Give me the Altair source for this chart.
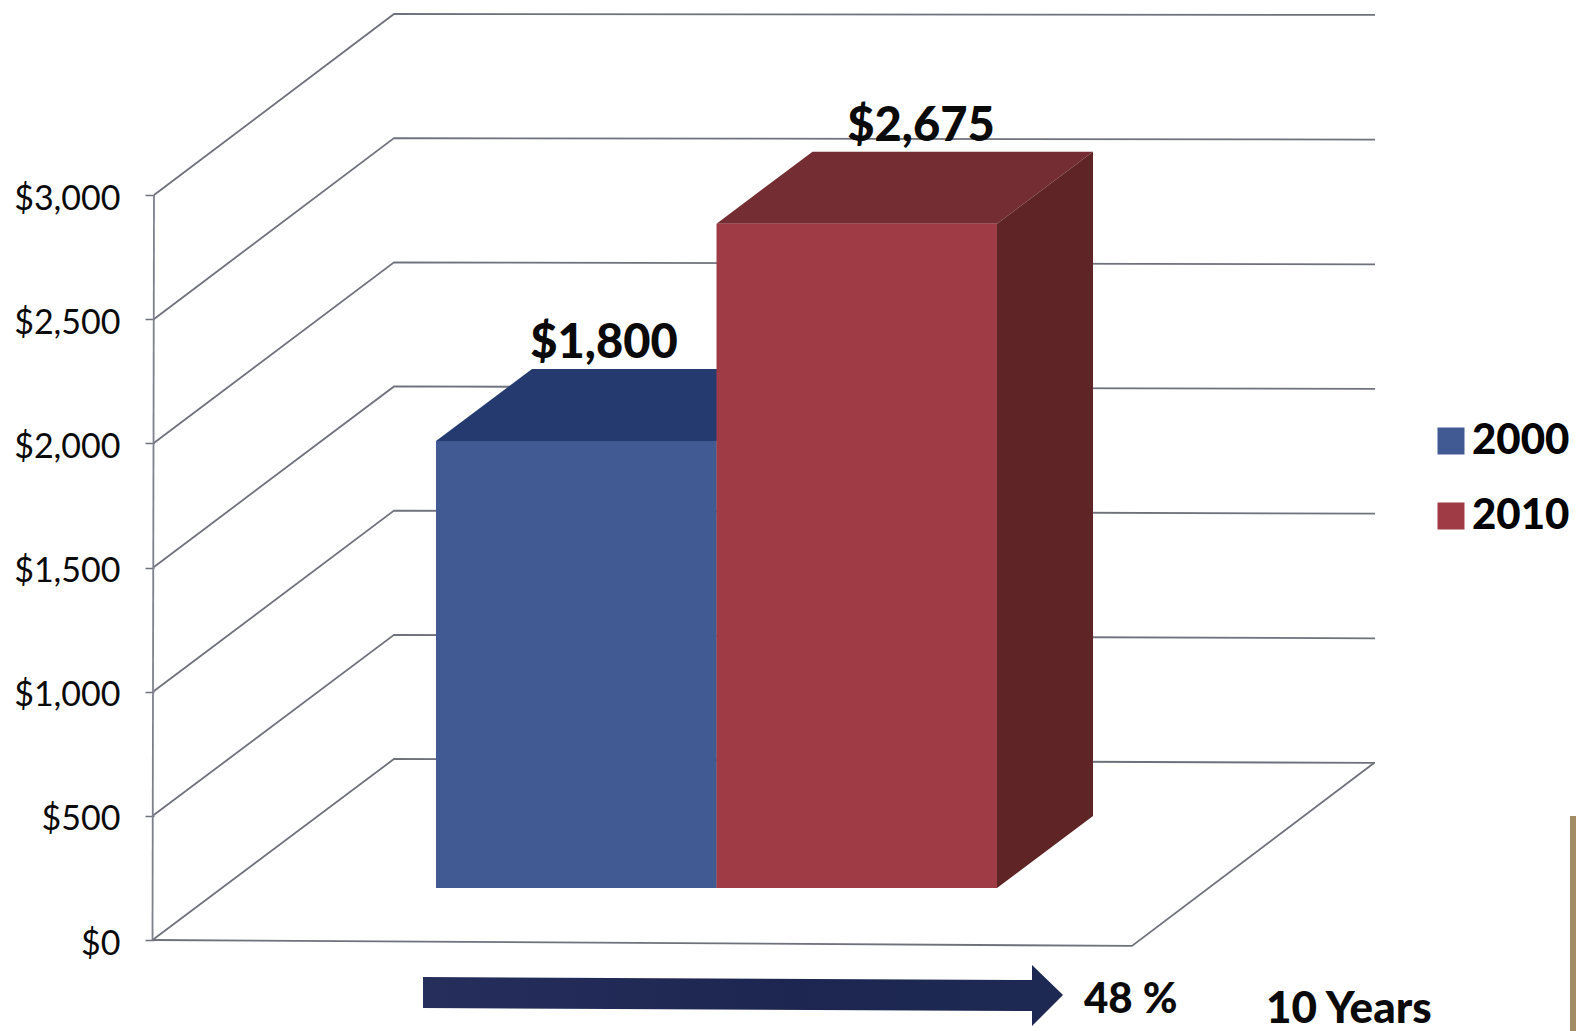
import altair as alt
import pandas as pd

# Values shown on the chart
YEARS = ["2000", "2010"]
INCOME = [1800, 2675]
TICKS = [0, 500, 1000, 1500, 2000, 2500, 3000]

# Colours of each column's three visible faces
FRONT_COLORS = ["#415A94", "#9F3B45"]
TOP_COLORS = ["#253B70", "#742E33"]
SIDE_COLORS = ["#2A3F75", "#5E2426"]
GRID_COLOR = "#6F727C"
FONT = "Lato"

# Canvas and oblique projection
W, H = 1576, 1031
ZERO_PX = 940.0
PX_PER_USD = 745 / 3000
WALL_X = 240          # horizontal shift of the back wall
WALL_USD = 729        # vertical shift of the back wall, in dollars
WALL_LEFT = 154
WALL_RIGHT = 1375


def usd(px):
    """Dollar value sitting at a vertical canvas position."""
    return (ZERO_PX - px) / PX_PER_USD


y_scale = alt.Scale(domain=[usd(H), usd(0)], range=[H, 0], nice=False, zero=False)
x_scale = alt.Scale(domain=[0, W], range=[0, W], nice=False, zero=False)
y_axis = alt.Axis(
    values=TICKS,
    format="$,.0f",
    title=None,
    domain=False,
    grid=False,
    offset=-WALL_LEFT,
    tickSize=9,
    tickColor=GRID_COLOR,
    tickWidth=1.5,
    labelPadding=25,
    labelFont=FONT,
    labelFontSize=34,
    labelColor="#0A0A0A",
    labelOffset=4,
    labelOverlap=False,
    labelFlush=False,
)
X = alt.X("x:Q", scale=x_scale, axis=None)
Y = alt.Y("y:Q", scale=y_scale, axis=y_axis)

# Columns stand part-way into the floor
COLUMN_LEFT = [436, 716.5]
COLUMN_WIDTH = 280.5
COLUMN_BASE = usd(888)
COLUMN_DX = 96
COLUMN_DY = 290
LABEL_X = [604, 921]

layers = []

# Wall and floor grid lines, one polyline per tick
grid_rows = []
for t in TICKS:
    drop = 16 - 12 * t / 3000
    grid_rows += [
        {"tick": t, "i": 0, "x": WALL_LEFT - (1.5 * (3000 - t) / 3000), "y": t},
        {"tick": t, "i": 1, "x": WALL_LEFT + WALL_X, "y": t + WALL_USD},
        {"tick": t, "i": 2, "x": WALL_RIGHT, "y": t + WALL_USD - drop},
    ]
layers.append(
    alt.Chart(pd.DataFrame(grid_rows))
    .mark_line(color=GRID_COLOR, strokeWidth=1.8, clip=False)
    .encode(x=X, y=Y, order="i:Q", detail="tick:N")
)

# Front edge and right edge of the floor, plus the value axis spine
floor = pd.DataFrame({
    "x": [WALL_LEFT - 1.5, 1132, WALL_RIGHT - 1],
    "y": [0, -24, WALL_USD - 16],
    "i": [0, 1, 2],
})
layers.append(
    alt.Chart(floor).mark_line(color=GRID_COLOR, strokeWidth=1.8)
    .encode(x=X, y=Y, order="i:Q")
)
spine = pd.DataFrame({"x": [WALL_LEFT, WALL_LEFT - 1.5], "y": [3000, 0], "i": [0, 1]})
layers.append(
    alt.Chart(spine).mark_line(color="#7E818C", strokeWidth=1.8)
    .encode(x=X, y=Y, order="i:Q")
)

# Column faces
for i, (year, value) in enumerate(zip(YEARS, INCOME)):
    left = COLUMN_LEFT[i]
    right = left + COLUMN_WIDTH
    top = COLUMN_BASE + value

    top_face = pd.DataFrame({
        "x": [left, left + COLUMN_DX],
        "x2": [right, right + COLUMN_DX],
        "y": [top, top + COLUMN_DY],
    })
    layers.append(
        alt.Chart(top_face).mark_area(orient="horizontal", color=TOP_COLORS[i])
        .encode(x=X, x2="x2:Q", y=Y)
    )
    side_face = pd.DataFrame({
        "x": [right, right + COLUMN_DX],
        "y": [top, top + COLUMN_DY],
        "y2": [COLUMN_BASE, COLUMN_BASE + COLUMN_DY],
    })
    layers.append(
        alt.Chart(side_face).mark_area(orient="vertical", color=SIDE_COLORS[i])
        .encode(x=X, y=Y, y2="y2:Q")
    )

# Front faces, which also feed the legend
front = pd.DataFrame({
    "year": YEARS,
    "x": COLUMN_LEFT,
    "x2": [l + COLUMN_WIDTH for l in COLUMN_LEFT],
    "y": [COLUMN_BASE + v for v in INCOME],
    "y2": [COLUMN_BASE] * len(YEARS),
})
layers.append(
    alt.Chart(front)
    .mark_rect()
    .encode(
        x=X,
        x2="x2:Q",
        y=Y,
        y2="y2:Q",
        color=alt.Color(
            "year:N",
            scale=alt.Scale(domain=YEARS, range=FRONT_COLORS),
            legend=alt.Legend(
                title=None,
                orient="none",
                legendX=1430,
                legendY=420,
                symbolType="square",
                symbolSize=729,
                symbolStrokeWidth=0,
                labelFont=FONT,
                labelFontWeight=900,
                labelFontSize=42,
                labelColor="#000000",
                labelOffset=0,
                rowPadding=33,
                padding=0,
            ),
        ),
    )
)

# Value labels above each column
labels = pd.DataFrame({
    "x": LABEL_X,
    "y": [COLUMN_BASE + v + COLUMN_DY for v in INCOME],
    "text": ["$" + format(v, ",") for v in INCOME],
})
layers.append(
    alt.Chart(labels)
    .mark_text(font=FONT, fontWeight=900, fontSize=47, baseline="alphabetic",
               align="center", dy=-11, color="#0A0A0A")
    .encode(x=X, y=Y, text="text:N")
)

# Growth arrow below the floor
navy = alt.Gradient(
    gradient="linear", x1=0, x2=1, y1=0, y2=0,
    stops=[
        alt.GradientStop(color="#262F5C", offset=0),
        alt.GradientStop(color="#1C2650", offset=0.6),
        alt.GradientStop(color="#1E2953", offset=1),
    ],
)
shaft = pd.DataFrame({
    "x": [423, 1033],
    "y": [usd(977), usd(980)],
    "y2": [usd(1008), usd(1011)],
})
layers.append(
    alt.Chart(shaft).mark_area(orient="vertical", color=navy)
    .encode(x=X, y=Y, y2="y2:Q")
)
head = pd.DataFrame({
    "x": [1032, 1063],
    "y": [usd(965), usd(995)],
    "y2": [usd(1026), usd(995)],
})
layers.append(
    alt.Chart(head).mark_area(orient="vertical", color="#1E2953")
    .encode(x=X, y=Y, y2="y2:Q")
)

# Scanned page edge in the lower right corner
edge = pd.DataFrame({"x": [1570], "x2": [W], "y": [usd(816)], "y2": [usd(H)]})
layers.append(
    alt.Chart(edge).mark_rect(color="#A18C65")
    .encode(x=X, x2="x2:Q", y=Y, y2="y2:Q")
)

# Side notes beside the arrow
NOTE_TEXT = ["48 %", "10 Years"]
NOTE_X = [1084, 1266]
NOTE_BASELINE = [1013, 1023]
NOTE_SIZE = [42, 44]
for text, nx, base, size in zip(NOTE_TEXT, NOTE_X, NOTE_BASELINE, NOTE_SIZE):
    layers.append(
        alt.Chart(pd.DataFrame({"x": [nx], "y": [usd(base)], "text": [text]}))
        .mark_text(font=FONT, fontWeight=900, fontSize=size, baseline="alphabetic",
                   align="left", color="#0A0A0A")
        .encode(x=X, y=Y, text="text:N")
    )

chart = (
    alt.layer(*layers)
    .resolve_scale(color="independent")
    .properties(width=W, height=H, padding=0, autosize=alt.AutoSizeParams(type="none"),
                background="#FFFFFF")
    .configure_view(stroke=None)
)

chart.save("out.html", embed_options={"renderer": "svg", "actions": False})
